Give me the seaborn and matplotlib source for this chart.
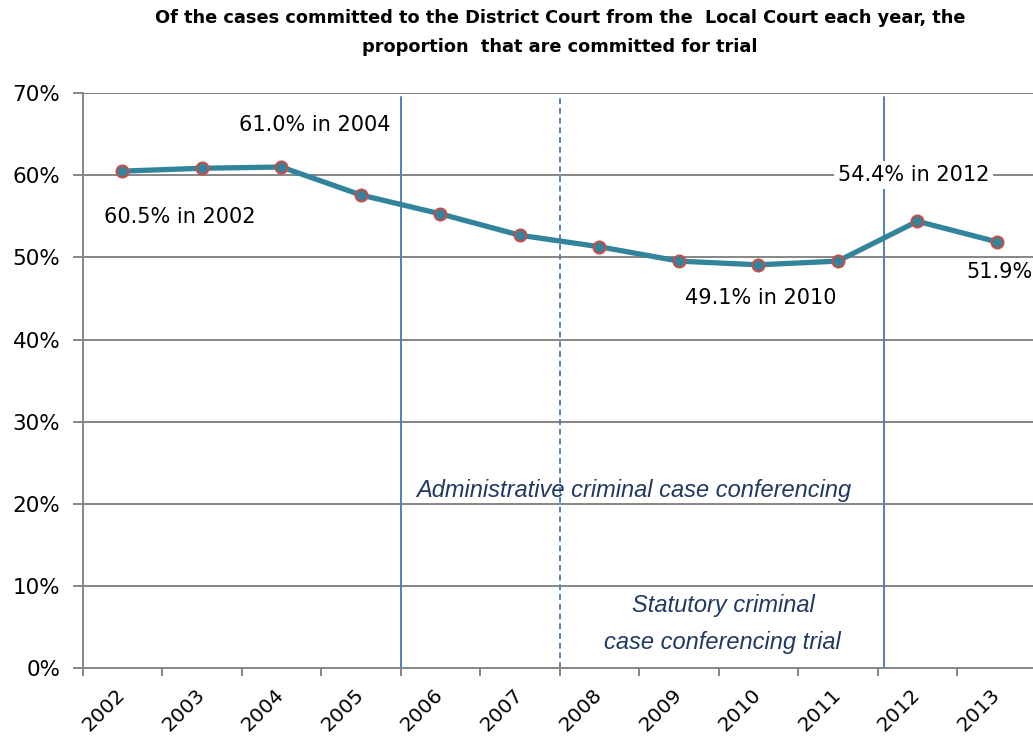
import numpy as np
import pandas as pd
import matplotlib
matplotlib.use("Agg")
import matplotlib.pyplot as plt
import matplotlib.transforms as mtransforms
import seaborn as sns

# Share of committed cases that go to trial, by year (%)
years = ["2002", "2003", "2004", "2005", "2006", "2007",
         "2008", "2009", "2010", "2011", "2012", "2013"]
trial_share = [60.5, 60.85, 61.0, 57.6, 55.3, 52.7,
               51.3, 49.55, 49.1, 49.55, 54.4, 51.9]

y_ticks = [0, 10, 20, 30, 40, 50, 60, 70]
y_tick_labels = ["0%", "10%", "20%", "30%", "40%", "50%", "60%", "70%"]

# Point call-outs: (category position, text, y position, alignment)
callouts = [
    (0.72, "60.5% in 2002", 54.9, "center"),
    (2.415, "61.0% in 2004", 66.1, "center"),
    (8.03, "49.1% in 2010", 45.05, "center"),
    (9.95, "54.4% in 2012", 60.0, "center"),
    (10.62, "51.9%", 48.2, "left"),
]

# Period boundaries (positions on the category axis)
admin_start = 3.5
statutory_start = 5.5
statutory_end = 9.58

df = pd.DataFrame({"pos": np.arange(len(years)), "share": trial_share})

sns.set_theme(style="white")
plt.rcParams["font.family"] = ["DejaVu Sans"]

fig = plt.figure(figsize=(10.33, 7.38), dpi=100)
ax = fig.add_axes([0.080, 0.0944, 0.9235, 0.7795])

line_color = "#31849B"
marker_edge = "#C0504D"
grid_color = "#868686"
period_color = "#4F81BD"
note_color = "#1F3864"
italic_font = ["Liberation Sans", "DejaVu Sans"]

# horizontal gridlines
for v in y_ticks[1:]:
    ax.axhline(v, color=grid_color, lw=1.4, zorder=0)

# period markers
ax.plot([admin_start, admin_start], [0, 69.5], color=period_color, lw=1.4, zorder=1)
ax.plot([statutory_start, statutory_start], [0, 69.5], color=period_color, lw=1.4,
        ls=(0, (3, 2)), zorder=1)
ax.plot([statutory_end, statutory_end], [0, 69.5], color=period_color, lw=1.4, zorder=1)

sns.lineplot(data=df, x="pos", y="share", ax=ax, color=line_color, lw=3.8,
             marker="o", markersize=8.5, markerfacecolor=line_color,
             markeredgecolor=marker_edge, markeredgewidth=1.6, zorder=3)

ax.set_xlim(-0.5, len(years) - 0.5)
ax.set_ylim(0, 70)
ax.set_xlabel("")
ax.set_ylabel("")

ax.set_yticks(y_ticks)
ax.set_yticklabels(y_tick_labels, fontsize=15.5, color="black")
ax.set_xticks(np.arange(len(years)))
ax.set_xticks(np.arange(len(years) + 1) - 0.5, minor=True)
ax.set_xticklabels(years, rotation=45, ha="right", rotation_mode="anchor",
                   fontsize=14.5, color="black")
ax.tick_params(axis="x", which="major", length=0, pad=12)
ax.tick_params(axis="x", which="minor", length=6, width=1.4, color=grid_color,
               direction="out", bottom=True)
ax.tick_params(axis="y", length=7, width=1.4, color=grid_color, direction="out",
               left=True, pad=9)
shift = mtransforms.ScaledTranslation(-0.07, 0, fig.dpi_scale_trans)
for lbl in ax.get_xticklabels():
    lbl.set_transform(lbl.get_transform() + shift)

for side in ["top", "right"]:
    ax.spines[side].set_visible(False)
for side in ["left", "bottom"]:
    ax.spines[side].set_color(grid_color)
    ax.spines[side].set_linewidth(1.4)

for xpos, text, ypos, align in callouts:
    ax.text(xpos, ypos, text, ha=align, va="center", fontsize=15,
            color="black", zorder=4,
            bbox=dict(boxstyle="square,pad=0.2", fc="white", ec="none"))

ax.text(6.43, 21.6, "Administrative criminal case conferencing", ha="center",
        va="center", fontsize=17, style="italic", color=note_color,
        family=italic_font, zorder=4)
ax.text(7.56, 7.7, "Statutory criminal", ha="center", va="center", fontsize=17,
        style="italic", color=note_color, family=italic_font)
ax.text(7.55, 3.2, "case conferencing trial", ha="center", va="center", fontsize=17,
        style="italic", color=note_color, family=italic_font)

fig.text(0.542, 0.956,
         "Of the cases committed to the District Court from the  Local Court each year, the\n"
         "proportion  that are committed for trial",
         ha="center", va="center", fontsize=12.8, fontweight="bold", linespacing=1.72,
         color="black")

fig.savefig("out.png", dpi=100)
